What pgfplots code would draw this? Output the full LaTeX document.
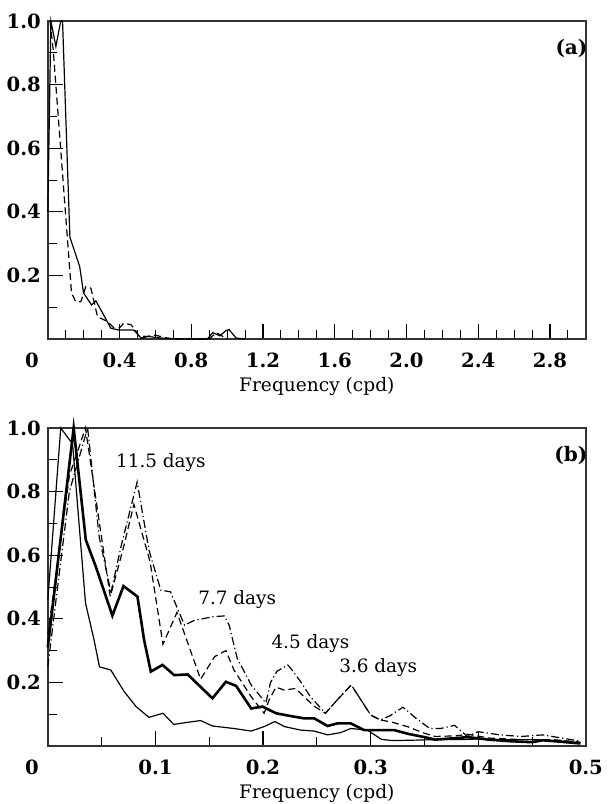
\documentclass[border=0pt]{standalone}
\usepackage{fontspec}
\setmainfont{DejaVu Serif}
\usepackage{pgfplots}
\pgfplotsset{compat=1.18}

\pgfplotsset{
  panel/.style={
    scale only axis, width=269pt, height=159pt,
    ymin=0, ymax=1, clip=false,
    axis line style={black!80, line width=0.7pt},
    tick pos=left,
    major tick length=7.5pt, minor tick length=4.5pt,
    major tick style={black, line width=0.6pt},
    minor tick style={black, line width=0.5pt},
    ytick={0,0.2,0.4,0.6,0.8,1.0},
    yticklabels={{},0.2,0.4,0.6,0.8,1.0},
    minor ytick={0.1,0.3,0.5,0.7,0.9},
    tick label style={font=\fontsize{9.8}{11}\selectfont\bfseries},
    xticklabel style={yshift=-3.5pt},
    xlabel={Frequency (cpd)},
    xlabel style={font=\fontsize{9.3}{11}\selectfont, inner sep=0pt, at={(axis description cs:0.5,0)}, anchor=center, yshift=-23.5pt},
  },
  lthin/.style={black, line width=0.6pt},
  lthick/.style={black, line width=1.3pt},
  ldsh/.style={black, line width=0.6pt, dash pattern=on 3.5pt off 2pt},
  ldshdot/.style={black, line width=0.6pt, dash pattern=on 4pt off 1.5pt on 0.6pt off 1.5pt},
}

\begin{document}
\begin{tikzpicture}
\path (-23.5pt,169.5pt) rectangle (276.5pt,-232.5pt);

% (a) full frequency range
\begin{axis}[panel,
    xmin=0, xmax=3,
    xtick={0,0.4,0.8,1.2,1.6,2.0,2.4,2.8},
    xticklabels={\makebox[0pt][r]{0\kern4.5pt},0.4,0.8,1.2,1.6,2.0,2.4,2.8},
    minor xtick={0.1,0.2,0.3,0.5,0.6,0.7,0.9,1.0,1.1,1.3,1.4,1.5,1.7,1.8,1.9,2.1,2.2,2.3,2.5,2.6,2.7,2.9},
]
\addplot[lthin] coordinates {
  (0,0.40)(0.017,1.0)(0.045,0.92)(0.072,1.0)(0.082,1.0)(0.123,0.32)(0.178,0.227)
  (0.199,0.145)(0.244,0.107)(0.268,0.12)(0.312,0.075)(0.351,0.034)(0.396,0.028)
  (0.48,0.028)(0.52,0.003)(0.56,0.008)(0.60,0.005)(0.65,0.002)(0.70,0.001)(0.80,0)
  (0.89,0)(0.92,0.02)(0.96,0.01)(0.99,0.025)(1.01,0.03)(1.05,0.003)(1.1,0)
};
\addplot[ldsh] coordinates {
  (0.012,1.0)(0.03,0.91)(0.082,0.52)(0.132,0.145)(0.156,0.117)(0.184,0.117)
  (0.212,0.165)(0.240,0.16)(0.277,0.07)(0.333,0.055)(0.368,0.035)(0.40,0.035)
  (0.424,0.05)(0.463,0.045)(0.48,0.035)(0.507,0.01)(0.55,0.008)(0.6,0.012)
  (0.65,0.005)(0.7,0)(0.9,0)(0.94,0.02)(0.97,0.01)(1.0,0)
};
\node[font=\fontsize{10}{11}\selectfont\bfseries] at (axis cs:2.92,0.915) {(a)};
\end{axis}

% (b) low frequency range
\begin{axis}[panel, at={(0,-203.5pt)},
    xmin=0, xmax=0.5,
    xtick={0,0.1,0.2,0.3,0.4,0.5},
    xticklabels={\makebox[0pt][r]{0\kern4.5pt},0.1,0.2,0.3,0.4,0.5},
    minor xtick={0.05,0.15,0.25,0.35,0.45},
]
\addplot[lthin] coordinates {
  (0,0.46)(0.012,1.0)(0.023,0.95)(0.035,0.45)(0.043,0.333)(0.048,0.249)(0.0585,0.239)
  (0.071,0.171)(0.082,0.124)(0.094,0.090)(0.107,0.103)(0.117,0.068)(0.13,0.0745)
  (0.142,0.08)(0.153,0.063)(0.173,0.055)(0.189,0.047)(0.201,0.061)(0.211,0.077)
  (0.22,0.061)(0.235,0.05)(0.2475,0.047)(0.26,0.035)(0.272,0.042)(0.2816,0.055)
  (0.297,0.05)(0.31,0.021)(0.32,0.017)(0.335,0.018)(0.36,0.02)(0.38,0.02)(0.4,0.022)
  (0.42,0.02)(0.45,0.02)(0.48,0.015)(0.495,0.01)
};
\addplot[lthick] coordinates {
  (0,0.31)(0.024,1.0)(0.0353,0.648)(0.0446,0.564)(0.06,0.41)(0.0703,0.503)(0.0833,0.47)
  (0.0895,0.333)(0.0957,0.234)(0.1066,0.255)(0.1174,0.223)(0.13,0.225)(0.153,0.15)
  (0.1655,0.202)(0.175,0.189)(0.189,0.118)(0.1995,0.124)(0.212,0.103)(0.226,0.094)
  (0.238,0.087)(0.2475,0.087)(0.26,0.063)(0.269,0.071)(0.2816,0.071)(0.294,0.05)
  (0.31,0.05)(0.322,0.05)(0.335,0.038)(0.35,0.028)(0.36,0.02)(0.38,0.025)(0.39,0.028)
  (0.41,0.02)(0.43,0.015)(0.45,0.012)(0.46,0.018)(0.475,0.014)(0.495,0.008)
};
\addplot[ldsh] coordinates {
  (0,0.35)(0.02,0.85)(0.035,1.0)(0.048,0.70)(0.058,0.47)(0.07,0.62)(0.08,0.76)
  (0.095,0.58)(0.107,0.32)(0.12,0.42)(0.142,0.21)(0.155,0.281)(0.1655,0.30)
  (0.173,0.239)(0.189,0.155)(0.201,0.103)(0.2057,0.145)(0.212,0.185)(0.2196,0.176)
  (0.2305,0.181)(0.238,0.155)(0.248,0.124)(0.258,0.103)(0.269,0.145)(0.282,0.192)
  (0.291,0.145)(0.300,0.0975)(0.309,0.082)(0.32,0.075)(0.335,0.06)(0.35,0.04)
  (0.36,0.03)(0.38,0.032)(0.39,0.037)(0.41,0.025)(0.44,0.02)(0.47,0.02)(0.495,0.012)
};
\addplot[ldshdot] coordinates {
  (0,0.25)(0.02,0.80)(0.037,1.0)(0.0477,0.658)(0.057,0.51)(0.0585,0.48)(0.068,0.627)
  (0.083,0.83)(0.094,0.616)(0.105,0.49)(0.114,0.485)(0.127,0.38)(0.136,0.395)
  (0.1545,0.407)(0.164,0.409)(0.1685,0.38)(0.176,0.276)(0.189,0.192)(0.2026,0.135)
  (0.207,0.2)(0.213,0.235)(0.223,0.255)(0.227,0.239)(0.235,0.202)(0.244,0.155)
  (0.258,0.103)(0.269,0.145)(0.282,0.192)(0.291,0.145)(0.300,0.0975)(0.309,0.082)
  (0.318,0.095)(0.33,0.122)(0.343,0.085)(0.355,0.055)(0.365,0.055)(0.378,0.065)
  (0.39,0.03)(0.40,0.045)(0.42,0.035)(0.44,0.03)(0.46,0.035)(0.495,0.015)
};
\begin{scope}[font=\fontsize{9.2}{11}\selectfont]
\node at (axis cs:0.105,0.89) {11.5 days};
\node at (axis cs:0.176,0.459) {7.7 days};
\node at (axis cs:0.244,0.323) {4.5 days};
\node at (axis cs:0.307,0.248) {3.6 days};
\end{scope}
\node[font=\fontsize{10}{11}\selectfont\bfseries] at (axis cs:0.486,0.915) {(b)};
\end{axis}
\end{tikzpicture}
\end{document}
